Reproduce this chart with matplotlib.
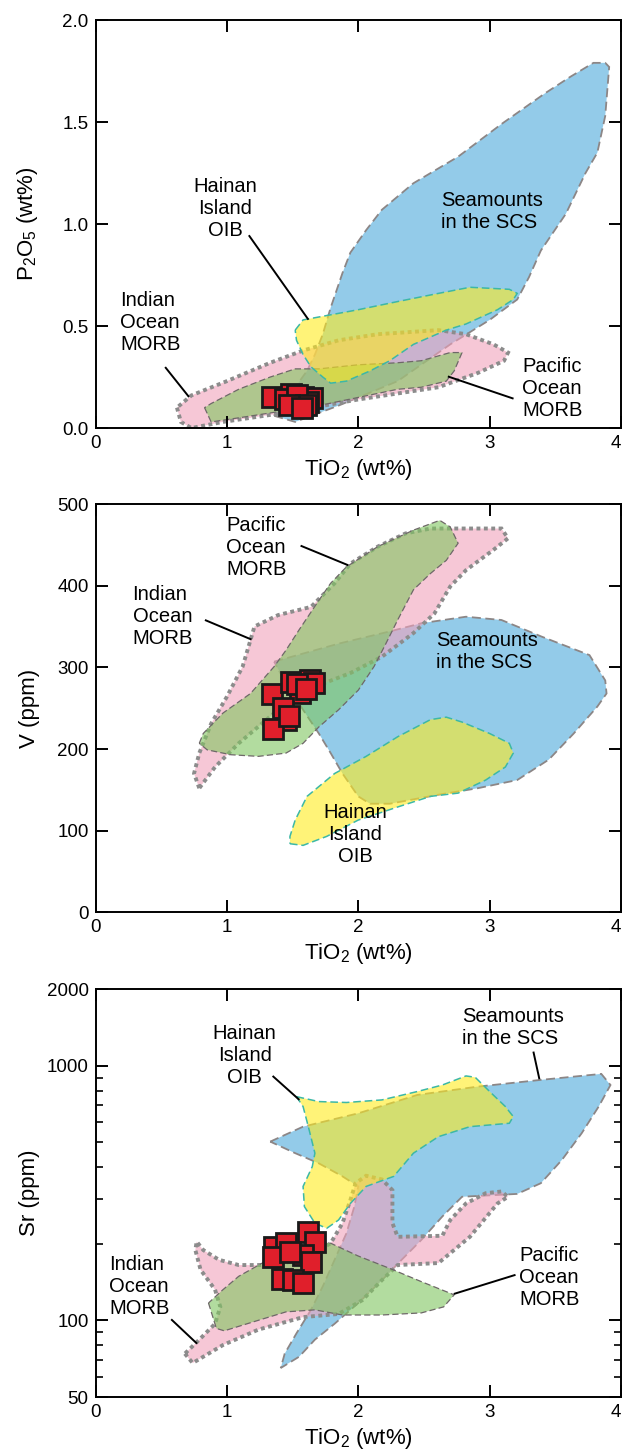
import matplotlib
matplotlib.use("Agg")
import matplotlib.pyplot as plt
from matplotlib.ticker import FixedLocator, NullFormatter

plt.rcParams['font.family'] = ['Liberation Sans', 'DejaVu Sans']
plt.rcParams['mathtext.fontset'] = 'custom'
plt.rcParams['mathtext.rm'] = 'Liberation Sans'
plt.rcParams['mathtext.it'] = 'Liberation Sans'
plt.rcParams['mathtext.default'] = 'regular'

# ---------------- TiO2 vs P2O5 ----------------
p_sea_x = [1.36, 1.52, 1.85, 2.30, 2.70, 3.00, 3.21, 3.30, 3.39, 3.58, 3.73, 3.82, 3.88, 3.91,
           3.88, 3.79, 3.61, 3.42, 3.09, 2.76, 2.42, 2.18, 2.06, 1.94, 1.88, 1.79, 1.73, 1.67,
           1.61, 1.52, 1.39]
p_sea_y = [0.06, 0.03, 0.11, 0.23, 0.41, 0.53, 0.63, 0.74, 0.87, 1.05, 1.25, 1.35, 1.53, 1.77,
           1.79, 1.79, 1.72, 1.64, 1.49, 1.33, 1.20, 1.07, 0.97, 0.86, 0.76, 0.59, 0.46, 0.36,
           0.28, 0.20, 0.14]
p_hai_x = [1.52, 1.58, 2.00, 2.30, 2.61, 2.85, 3.15, 3.21, 3.18, 3.06, 2.82, 2.67, 2.42, 2.24,
           2.09, 1.91, 1.79, 1.73, 1.64, 1.58, 1.53]
p_hai_y = [0.48, 0.53, 0.58, 0.62, 0.66, 0.69, 0.68, 0.66, 0.63, 0.58, 0.51, 0.48, 0.41, 0.33,
           0.28, 0.23, 0.22, 0.25, 0.30, 0.36, 0.43]
p_ind_x = [0.62, 0.65, 0.73, 0.97, 1.39, 2.00, 2.61, 2.91, 3.11, 3.14, 3.03, 2.82, 2.61, 2.15,
           1.85, 1.58, 1.33, 1.00, 0.73]
p_ind_y = [0.10, 0.03, 0.00, 0.03, 0.07, 0.14, 0.20, 0.27, 0.33, 0.37, 0.41, 0.46, 0.48, 0.46,
           0.43, 0.38, 0.32, 0.23, 0.16]
p_pac_x = [0.83, 0.88, 1.09, 1.39, 1.70, 2.00, 2.30, 2.48, 2.67, 2.73, 2.79, 2.70, 2.48, 2.30,
           2.00, 1.70, 1.52, 1.33, 1.09, 0.88]
p_pac_y = [0.10, 0.03, 0.05, 0.08, 0.11, 0.15, 0.19, 0.20, 0.23, 0.28, 0.37, 0.37, 0.33, 0.32,
           0.31, 0.29, 0.29, 0.25, 0.19, 0.12]
p_smp_x = [1.34, 1.49, 1.58, 1.65, 1.62, 1.44, 1.53, 1.60, 1.47, 1.57]
p_smp_y = [0.150, 0.167, 0.150, 0.147, 0.130, 0.140, 0.160, 0.115, 0.113, 0.098]

# ---------------- TiO2 vs V ----------------
v_sea_x = [1.36, 1.85, 2.24, 2.48, 2.82, 3.09, 3.39, 3.76, 3.88, 3.89, 3.82, 3.64, 3.45, 3.21,
           2.91, 2.61, 2.24, 2.09, 2.00, 1.88, 1.79, 1.70, 1.58, 1.45]
v_sea_y = [307, 329, 344, 354, 362, 358, 338, 315, 284, 268, 252, 219, 187, 162,
           152, 144, 133, 133, 142, 170, 195, 219, 248, 280]
v_hai_x = [1.48, 1.58, 1.76, 2.00, 2.30, 2.55, 2.76, 2.97, 3.12, 3.18, 3.15, 3.00, 2.79, 2.67,
           2.55, 2.30, 2.06, 1.82, 1.61, 1.52, 1.48]
v_hai_y = [84, 82, 93, 113, 129, 142, 146, 162, 178, 195, 207, 219, 233, 239,
           236, 215, 191, 170, 142, 113, 93]
v_ind_x = [0.79, 0.75, 0.79, 0.88, 1.00, 1.12, 1.21, 1.39, 1.64, 1.82, 1.94, 2.15, 2.36, 2.55,
           3.09, 3.14, 3.03, 2.82, 2.70, 2.58, 2.42, 2.18, 1.94, 1.73, 1.39, 1.09, 0.91]
v_ind_y = [152, 170, 195, 231, 264, 301, 350, 364, 374, 403, 427, 448, 464, 470,
           470, 458, 444, 419, 399, 366, 342, 313, 293, 280, 248, 207, 178]
v_pac_x = [0.79, 0.82, 0.97, 1.18, 1.36, 1.45, 1.55, 1.70, 1.79, 1.91, 2.15, 2.42, 2.62, 2.70,
           2.76, 2.67, 2.55, 2.42, 2.30, 2.21, 2.12, 2.00, 1.85, 1.70, 1.58, 1.45, 1.24, 1.03, 0.85]
v_pac_y = [207, 219, 244, 268, 301, 321, 346, 382, 403, 423, 448, 468, 480, 472,
           452, 431, 415, 395, 358, 329, 301, 272, 248, 227, 207, 195, 191, 193, 199]
v_smp_x = [1.34, 1.49, 1.63, 1.66, 1.56, 1.45, 1.35, 1.43, 1.53, 1.60, 1.47]
v_smp_y = [267, 282, 285, 281, 268, 235, 224, 250, 279, 273, 240]

# ---------------- TiO2 vs Sr ----------------
s_sea_x = [1.33, 1.58, 2.00, 2.45, 2.91, 3.39, 3.85, 3.92, 3.83, 3.70, 3.55, 3.39, 3.21, 2.79,
           2.64, 2.48, 2.33, 2.18, 2.00, 1.82, 1.67, 1.55, 1.41, 1.44, 1.53, 1.64, 1.73, 1.82,
           1.91, 1.97, 2.00, 1.88, 1.70, 1.52]
s_sea_y = [504, 577, 651, 769, 829, 881, 930, 841, 692, 543, 427, 346, 314, 306,
           256, 207, 173, 144, 117, 97, 84, 72, 65, 74, 89, 110, 136, 173,
           220, 280, 336, 368, 414, 454]
s_hai_x = [1.53, 1.70, 1.91, 2.18, 2.45, 2.64, 2.82, 2.89, 3.00, 3.12, 3.18, 3.15, 2.85, 2.61,
           2.42, 2.27, 2.06, 1.94, 1.85, 1.76, 1.67, 1.59, 1.58, 1.65, 1.67, 1.62, 1.58]
s_hai_y = [757, 724, 718, 735, 793, 841, 913, 902, 793, 692, 632, 595, 577, 527,
           454, 368, 336, 288, 248, 230, 241, 280, 336, 402, 454, 577, 692]
s_ind_x = [0.68, 0.74, 0.97, 1.24, 1.58, 1.85, 2.03, 2.18, 2.30, 2.61, 2.85, 3.06, 3.14, 3.09,
           2.97, 2.82, 2.70, 2.64, 2.30, 2.26, 2.26, 2.18, 2.06, 1.98, 1.94, 1.88, 1.79, 1.58,
           1.33, 1.09, 0.94, 0.82, 0.77, 0.76, 0.80, 0.91, 0.95, 0.91, 0.79]
s_ind_y = [74, 68, 80, 92, 103, 106, 120, 144, 165, 168, 213, 288, 306, 321,
           316, 288, 248, 215, 213, 241, 325, 358, 370, 346, 297, 241, 201, 173,
           165, 165, 173, 189, 204, 189, 158, 132, 113, 97, 84]
s_pac_x = [0.86, 0.92, 0.98, 1.21, 1.45, 1.67, 1.88, 2.18, 2.48, 2.65, 2.73, 2.48, 2.24, 2.00,
           1.79, 1.64, 1.45, 1.27, 1.09, 0.97]
s_pac_y = [117, 93, 91, 99, 108, 110, 105, 105, 107, 113, 126, 142, 160, 179,
           201, 204, 189, 168, 149, 132]
s_smp_x = [1.36, 1.45, 1.62, 1.67, 1.58, 1.64, 1.35, 1.42, 1.50, 1.58, 1.48]
s_smp_y = [195, 201, 223, 204, 181, 170, 178, 146, 144, 140, 185]

x_ticks = [0, 1, 2, 3, 4]
x_ticklabels = ['0', '1', '2', '3', '4']

# fill / outline styles
st_sea = dict(fc=(0.576, 0.796, 0.914, 1.0), ec='#8c8686', ls=(0, (5, 2.5)), lw=1.3)
st_hai = dict(fc=(1.0, 0.92, 0.12, 0.6), ec='#3cb8a6', ls=(0, (5, 2.5)), lw=1.1)
st_ind = dict(fc=(0.94, 0.635, 0.737, 0.6), ec='#8c8c8c', ls=(0, (1, 0.9)), lw=2.8)
st_pac = dict(fc=(0.50, 0.776, 0.373, 0.6), ec='#6e6868', ls=(0, (5, 2.5)), lw=0.9)


def field(ax, x, y, st):
    ax.fill(x, y, facecolor=st['fc'], edgecolor=st['ec'], linestyle=st['ls'], linewidth=st['lw'])


def label(ax, x, y, s, ha='left'):
    ax.text(x, y, s, fontsize=14.5, ha=ha, va='center', multialignment=ha, linespacing=1.2)


def leader(ax, x, y):
    ax.plot(x, y, color='black', lw=1.4, solid_capstyle='butt')


def style_axes(ax):
    for sp in ax.spines.values():
        sp.set_linewidth(1.4)
    ax.tick_params(which='major', direction='in', length=8.5, width=1.4, top=True, right=True,
                   labelsize=13.5, pad=5)
    ax.tick_params(which='minor', direction='in', length=5, width=1.2, top=False, right=True)
    ax.set_xlim(0, 4)
    ax.set_xticks(x_ticks)
    ax.set_xticklabels(x_ticklabels)
    # last label sits on the figure edge, keep it inside
    ax.get_xticklabels()[-1].set_horizontalalignment('right')
    ax.set_xlabel('TiO$_2$ (wt%)', fontsize=16)
    ax.xaxis.set_label_coords(0.5, -0.07)
    ax.yaxis.set_label_coords(-0.105, 0.5)


def samples(ax, x, y):
    ax.plot(x, y, 's', ms=14, mfc='#e01f2b', mec='#1a1a1a', mew=2, ls='none', zorder=10)


def draw_fields(ax, sea, ind, pac, hai):
    field(ax, sea[0], sea[1], st_sea)
    field(ax, ind[0], ind[1], st_ind)
    field(ax, pac[0], pac[1], st_pac)
    field(ax, hai[0], hai[1], st_hai)


fig = plt.figure(figsize=(6.23, 14.5), dpi=100)

# panel 1
ax1 = fig.add_axes([0.1533, 0.7048, 0.8435, 0.2814])
draw_fields(ax1, (p_sea_x, p_sea_y), (p_ind_x, p_ind_y), (p_pac_x, p_pac_y), (p_hai_x, p_hai_y))
samples(ax1, p_smp_x, p_smp_y)
label(ax1, 0.985, 1.076, 'Hainan\nIsland\nOIB', ha='center')
label(ax1, 2.63, 1.06, 'Seamounts\nin the SCS')
label(ax1, 0.19, 0.515, 'Indian\nOcean\nMORB')
label(ax1, 3.25, 0.196, 'Pacific\nOcean\nMORB')
leader(ax1, [1.167, 1.621], [0.945, 0.531])
leader(ax1, [0.530, 0.712], [0.299, 0.152])
leader(ax1, [3.182, 2.682], [0.144, 0.253])
ax1.set_ylim(0, 2.0)
ax1.set_yticks([0, 0.5, 1.0, 1.5, 2.0])
ax1.set_yticklabels(['0.0', '0.5', '1.0', '1.5', '2.0'])
ax1.set_ylabel('P$_2$O$_5$ (wt%)', fontsize=16)
style_axes(ax1)

# panel 2
ax2 = fig.add_axes([0.1533, 0.3708, 0.8435, 0.2816])
draw_fields(ax2, (v_sea_x, v_sea_y), (v_ind_x, v_ind_y), (v_pac_x, v_pac_y), (v_hai_x, v_hai_y))
samples(ax2, v_smp_x, v_smp_y)
label(ax2, 0.994, 446.5, 'Pacific\nOcean\nMORB')
label(ax2, 0.282, 362, 'Indian\nOcean\nMORB')
label(ax2, 2.591, 319, 'Seamounts\nin the SCS')
label(ax2, 1.979, 95.5, 'Hainan\nIsland\nOIB', ha='center')
leader(ax2, [1.561, 1.924], [449, 425])
leader(ax2, [0.833, 1.188], [358, 334])
ax2.set_ylim(0, 500)
ax2.set_yticks([0, 100, 200, 300, 400, 500])
ax2.set_ylabel('V (ppm)', fontsize=16)
style_axes(ax2)

# panel 3
ax3 = fig.add_axes([0.1533, 0.03655, 0.8435, 0.2812])
ax3.set_yscale('log')
draw_fields(ax3, (s_sea_x, s_sea_y), (s_ind_x, s_ind_y), (s_pac_x, s_pac_y), (s_hai_x, s_hai_y))
samples(ax3, s_smp_x, s_smp_y)
label(ax3, 1.136, 1098, 'Hainan\nIsland\nOIB', ha='center')
label(ax3, 2.788, 1410, 'Seamounts\nin the SCS')
label(ax3, 0.106, 136, 'Indian\nOcean\nMORB')
label(ax3, 3.227, 148, 'Pacific\nOcean\nMORB')
leader(ax3, [1.348, 1.552], [913, 735])
leader(ax3, [3.333, 3.379], [1138, 886])
leader(ax3, [0.576, 0.773], [101, 81])
leader(ax3, [3.197, 2.727], [151, 127])
ax3.set_ylim(50, 2000)
ax3.yaxis.set_major_locator(FixedLocator([50, 100, 1000, 2000]))
ax3.set_yticklabels(['50', '100', '1000', '2000'])
ax3.yaxis.set_minor_locator(FixedLocator([60, 70, 80, 90, 200, 300, 400, 500, 600, 700, 800, 900]))
ax3.yaxis.set_minor_formatter(NullFormatter())
ax3.set_ylabel('Sr (ppm)', fontsize=16)
style_axes(ax3)

fig.savefig('out.png', dpi=100)
